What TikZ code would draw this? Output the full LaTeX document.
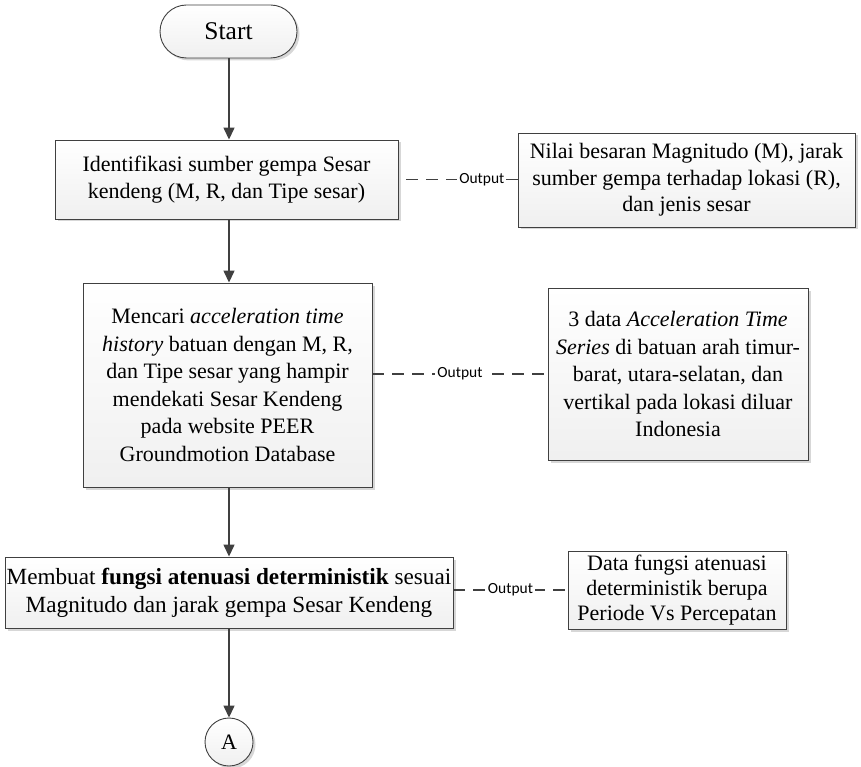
\documentclass[tikz,border=0pt]{standalone}
\usepackage{fontspec}
\setmainfont{Liberation Serif}
\newfontfamily\labelfont{Carlito}
\usetikzlibrary{shapes.misc,shadows,arrows.meta}
\definecolor{edge}{HTML}{404040}
\tikzset{
  x=1pt, y=-1pt,
  proc/.style={draw=edge, line width=0.9pt, align=center,
    top color=white, bottom color=black!6,
    drop shadow={shadow xshift=2.5pt, shadow yshift=-2.5pt, fill=black!22, opacity=0.7},
    font=\fontsize{22}{27.5}\selectfont, inner sep=0pt},
  flow/.style={draw=edge, line width=1.4pt, -{Triangle[length=12pt,width=11pt]}},
  outlink/.style={draw=edge, line width=1.1pt, dash pattern=on 12pt off 8pt},
  outlabel/.style={fill=white, inner sep=2pt, font=\labelfont\fontsize{15.5}{18}\selectfont, text=black}
}
\begin{document}
\begin{tikzpicture}
\useasboundingbox (0,0) rectangle (861,767);
\fill[white] (0,0) rectangle (861,767);

% main flow
\node[proc, rounded rectangle, minimum width=137pt, minimum height=53pt,
  font=\fontsize{25.5}{30}\selectfont] (start) at (228.5,31.5) {Start};
\node[proc, minimum width=343pt, minimum height=79pt] (s1) at (226.5,179.5)
  {Identifikasi sumber gempa Sesar\\kendeng (M, R, dan Tipe sesar)};
\node[proc, minimum width=289pt, minimum height=204pt] (s2) at (227.5,385)
  {Mencari \textit{acceleration time}\\\textit{history} batuan dengan M, R,\\dan Tipe sesar yang hampir\\mendekati Sesar Kendeng\\pada website PEER\\Groundmotion Database};
\node[proc, minimum width=448pt, minimum height=71pt,
  font=\fontsize{23.2}{28}\selectfont] (s3) at (229,592.5)
  {Membuat \textbf{fungsi atenuasi deterministik} sesuai\\Magnitudo dan jarak gempa Sesar Kendeng};
\node[proc, circle, minimum size=48pt] (conA) at (229,742) {A};

% outputs
\node[proc, minimum width=337pt, minimum height=94pt,
  font=\fontsize{22}{26.5}\selectfont] (o1) at (686.5,180)
  {Nilai besaran Magnitudo (M), jarak\\sumber gempa terhadap lokasi (R),\\dan jenis sesar};
\node[proc, minimum width=260pt, minimum height=172pt] (o2) at (678,374)
  {3 data \textit{Acceleration Time}\\\textit{Series} di batuan arah timur-\\barat, utara-selatan, dan\\vertikal pada lokasi diluar\\Indonesia};
\node[proc, minimum width=218pt, minimum height=78pt,
  font=\fontsize{22}{25}\selectfont] (o3) at (677,590)
  {Data fungsi atenuasi\\deterministik berupa\\Periode Vs Percepatan};

% connectors
\draw[flow] (start.south -| conA) -- (s1.north -| conA);
\draw[flow] (s1.south -| conA) -- (s2.north -| conA);
\draw[flow] (s2.south -| conA) -- (s3.north -| conA);
\draw[flow] (s3.south -| conA) -- (conA.north);

\draw[outlink] (o1.west |- s1.east) -- node[outlabel, pos=0.3] {Output} (s1.east);
\draw[outlink] (s2.east |- o2.west) -- node[outlabel] {Output} (o2.west);
\draw[outlink] (s3.east |- o3.west) -- node[outlabel] {Output} (o3.west);
\end{tikzpicture}
\end{document}
